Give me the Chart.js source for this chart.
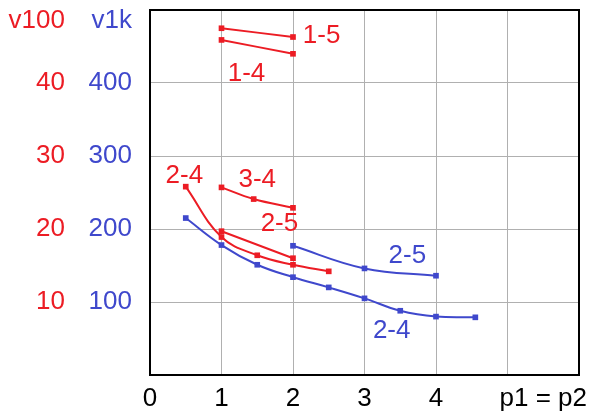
<!DOCTYPE html>
<html>
<head>
<meta charset="utf-8">
<script src="https://cdn.jsdelivr.net/npm/chart.js@4.4.1/dist/chart.umd.min.js"></script>
<style>
  html, body { margin: 0; padding: 0; background: #fff; }
  #wrap { width: 598px; height: 417px; }
</style>
</head>
<body>
<div id="wrap"><canvas id="chart" width="598" height="417"></canvas></div>
<script>
// x ticks and y ticks
const xTicks = [0, 1, 2, 3, 4, 5, 5.5, 6];
const xLabel = 'p1 = p2';

// red series (v100 scale)
const r15x = [1, 2],            r15y = [47.5, 46.3];
const r14x = [1, 2],            r14y = [45.9, 44.0];
const r34x = [1, 1.45, 2],      r34y = [25.7, 24.1, 22.9];
const r25x = [1, 2],            r25y = [19.7, 16.0];
const r24x = [0.5, 1, 1.5, 2, 2.5], r24y = [25.8, 18.9, 16.4, 15.1, 14.2];

// blue series (v1k scale)
const b24x = [0.5, 1, 1.5, 2, 2.5, 3, 3.5, 4, 4.55];
const b24y = [215, 178, 151, 134, 120, 105, 88, 80, 79];
const b25x = [2, 3, 4];
const b25y = [177, 146, 136];

// curve labels: [text, x, y, axis]
const curveLabels = [
    ['1-5', 2.4, 46.4, 'y2'],
    ['1-4', 1.35, 41.2, 'y2'],
    ['2-4', 0.48, 27.3, 'y2'],
    ['3-4', 1.5, 26.7, 'y2'],
    ['2-5', 1.81, 20.7, 'y2'],
    ['2-5', 3.6, 163, 'y'],
    ['2-4', 3.38, 60, 'y']
];

const RED = '#ec1c24';
const BLUE = '#3f48cc';
const FONT = "'Liberation Sans', Arial, sans-serif";

const pts = (xs, ys) => xs.map((x, i) => ({ x: x, y: ys[i] }));

function series(xs, ys, color, axis) {
    return {
        data: pts(xs, ys),
        yAxisID: axis,
        borderColor: color,
        backgroundColor: color,
        borderWidth: 2,
        showLine: true,
        tension: 0.4,
        pointStyle: 'rect',
        pointRadius: 4,
        pointBorderWidth: 0
    };
}

// drop the label overhang padding so the plot box sits where we want it
function noPad(axis) {
    axis.paddingTop = 0;
    axis.paddingBottom = 0;
    axis.paddingLeft = 0;
    axis.paddingRight = 0;
}

const extras = {
    id: 'extras',
    afterDraw(chart) {
        const ctx = chart.ctx;
        const a = chart.chartArea;
        ctx.save();
        ctx.strokeStyle = '#000';
        ctx.lineWidth = 2;
        ctx.strokeRect(a.left, a.top, a.right - a.left, a.bottom - a.top);

        ctx.font = '26px ' + FONT;
        ctx.textBaseline = 'middle';
        ctx.textAlign = 'center';
        curveLabels.forEach(l => {
            ctx.fillStyle = l[3] === 'y' ? BLUE : RED;
            ctx.fillText(l[0], chart.scales.x.getPixelForValue(l[1]), chart.scales[l[3]].getPixelForValue(l[2]));
        });

        // axis headers
        ctx.textAlign = 'right';
        ctx.fillStyle = RED;
        ctx.fillText('v100', chart.scales.y2.right - 15, a.top + 11);
        ctx.fillStyle = BLUE;
        ctx.fillText('v1k', chart.scales.y.right - 18, a.top + 11);
        ctx.restore();
    }
};

new Chart(document.getElementById('chart'), {
    type: 'scatter',
    data: {
        datasets: [
            series(r15x, r15y, RED, 'y2'),
            series(r14x, r14y, RED, 'y2'),
            series(r34x, r34y, RED, 'y2'),
            series(r25x, r25y, RED, 'y2'),
            series(r24x, r24y, RED, 'y2'),
            series(b24x, b24y, BLUE, 'y'),
            series(b25x, b25y, BLUE, 'y')
        ]
    },
    options: {
        responsive: false,
        animation: false,
        layout: { padding: { top: 10, right: 19, bottom: 0, left: 0 } },
        plugins: {
            legend: { display: false },
            tooltip: { enabled: false }
        },
        scales: {
            x: {
                type: 'linear',
                min: 0,
                max: 6,
                afterBuildTicks: axis => { axis.ticks = xTicks.map(v => ({ value: v })); },
                afterFit: axis => { axis.height = 42; noPad(axis); },
                border: { display: false },
                grid: {
                    drawTicks: false,
                    color: c => (c.tick && c.tick.value === 5.5) ? 'rgba(0,0,0,0)' : '#b0b0b0'
                },
                ticks: {
                    autoSkip: false,
                    maxRotation: 0,
                    padding: 8,
                    color: '#000',
                    font: { family: FONT, size: 26 },
                    callback: v => v <= 4 ? v : (v === 5.5 ? xLabel : '')
                }
            },
            y: {
                position: 'left',
                weight: 0,
                min: 0,
                max: 500,
                afterFit: axis => { axis.width = 70; noPad(axis); },
                border: { display: false },
                grid: { drawTicks: false, color: '#b0b0b0' },
                ticks: {
                    stepSize: 100,
                    padding: 18,
                    color: BLUE,
                    font: { family: FONT, size: 26 },
                    callback: v => (v > 0 && v < 500) ? v : ''
                }
            },
            y2: {
                position: 'left',
                weight: 1,
                min: 0,
                max: 50,
                afterFit: axis => { axis.width = 80; noPad(axis); },
                border: { display: false },
                grid: { display: false, drawTicks: false },
                ticks: {
                    stepSize: 10,
                    padding: 15,
                    color: RED,
                    font: { family: FONT, size: 26 },
                    callback: v => (v > 0 && v < 50) ? v : ''
                }
            }
        }
    },
    plugins: [extras]
});
</script>
</body>
</html>
